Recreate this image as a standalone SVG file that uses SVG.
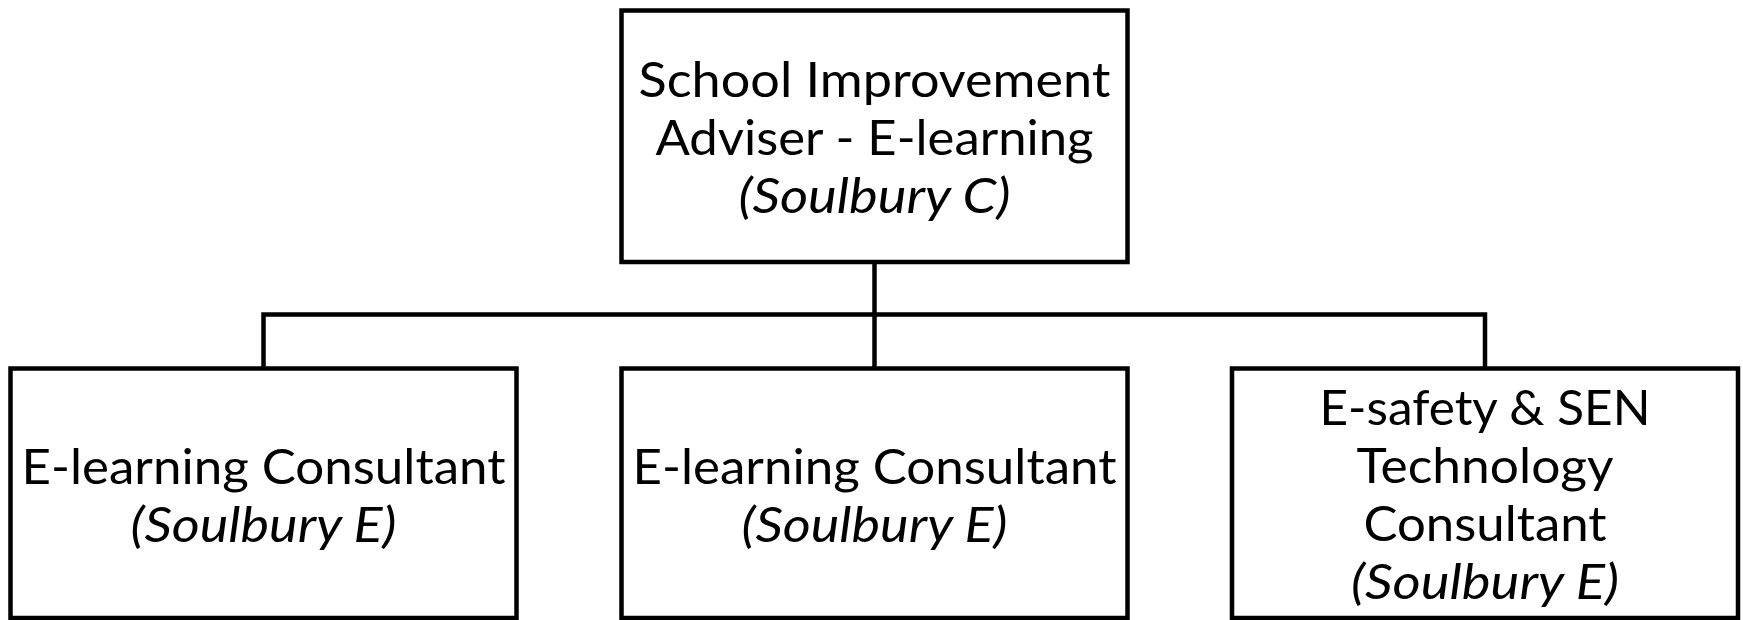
<svg xmlns="http://www.w3.org/2000/svg" width="1743" height="620" viewBox="0 0 1743 620">
<style>
.box{fill:#fff;stroke:#000;stroke-width:4.5}
.t{font-family:Lato,"Open Sans","Liberation Sans",sans-serif;font-size:48px;fill:#000;text-anchor:middle}
.i{font-style:italic}
.c{fill:none;stroke:#000;stroke-width:4.5}
</style>
<rect width="1743" height="620" fill="#fff"/>
<g id="connectors">
<path class="c" d="M874.5 262V368.5"/>
<path class="c" d="M263.5 368.5V314.5H1485V368.5"/>
</g>
<g id="node-adviser">
<rect class="box" x="621.5" y="10.5" width="506" height="251.5"/>
<text class="t" x="874.5" y="97" textLength="472" lengthAdjust="spacingAndGlyphs">School Improvement</text>
<text class="t" x="874.5" y="155" textLength="438" lengthAdjust="spacingAndGlyphs">Adviser - E-learning</text>
<text class="t i" x="874.5" y="213" textLength="272" lengthAdjust="spacingAndGlyphs">(Soulbury C)</text>
</g>
<g id="node-consultant1">
<rect class="box" x="10.5" y="368.5" width="506" height="249.5"/>
<text class="t" x="263.5" y="484" textLength="484" lengthAdjust="spacingAndGlyphs">E-learning Consultant</text>
<text class="t i" x="263.5" y="542" textLength="266" lengthAdjust="spacingAndGlyphs">(Soulbury E)</text>
</g>
<g id="node-consultant2">
<rect class="box" x="621.5" y="368.5" width="506" height="249.5"/>
<text class="t" x="874.5" y="484" textLength="484" lengthAdjust="spacingAndGlyphs">E-learning Consultant</text>
<text class="t i" x="874.5" y="542" textLength="266" lengthAdjust="spacingAndGlyphs">(Soulbury E)</text>
</g>
<g id="node-esafety">
<rect class="box" x="1232" y="368.5" width="506" height="249.5"/>
<text class="t" x="1485" y="425" textLength="331" lengthAdjust="spacingAndGlyphs">E-safety &amp; SEN</text>
<text class="t" x="1485" y="483" textLength="257" lengthAdjust="spacingAndGlyphs">Technology</text>
<text class="t" x="1485" y="541" textLength="243" lengthAdjust="spacingAndGlyphs">Consultant</text>
<text class="t i" x="1485" y="599" textLength="268" lengthAdjust="spacingAndGlyphs">(Soulbury E)</text>
</g>
</svg>
